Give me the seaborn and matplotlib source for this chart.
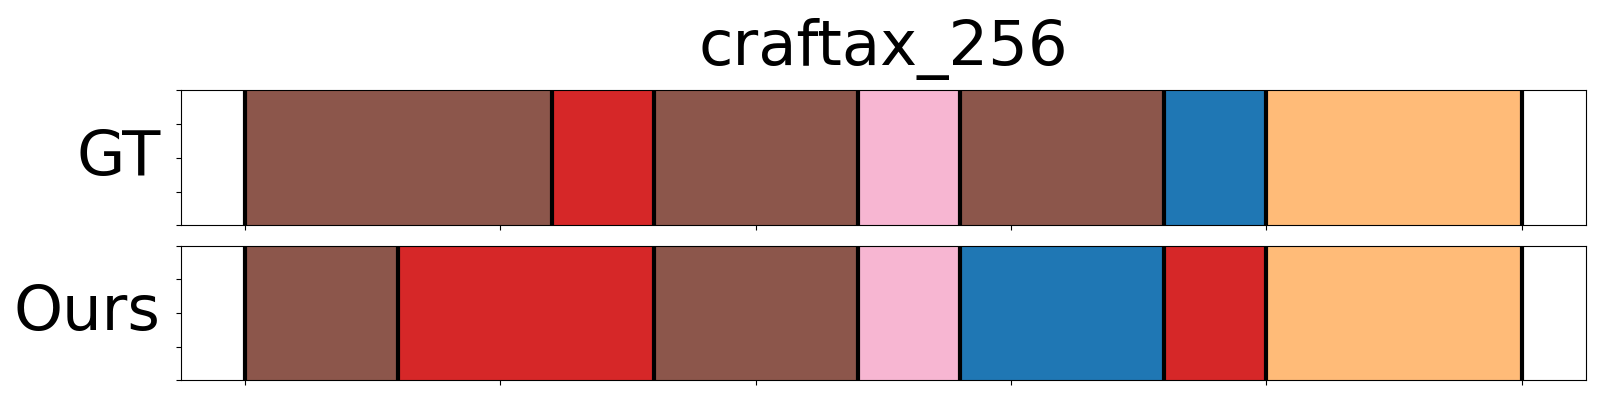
import numpy as np
import pandas as pd
import matplotlib
matplotlib.use('Agg')
import matplotlib.pyplot as plt
import seaborn as sns

# segment boundaries (frames) and action labels for each row
gt_bounds = [0, 60, 80, 120, 140, 180, 200, 250]
gt_labels = ['brown', 'red', 'brown', 'pink', 'brown', 'blue', 'orange']
ours_bounds = [0, 30, 80, 120, 140, 180, 200, 250]
ours_labels = ['brown', 'red', 'brown', 'pink', 'blue', 'red', 'orange']
row_names = ['GT', 'Ours']
title = 'craftax_256'

tab20 = sns.color_palette('tab20')
palette = {'blue': tab20[0], 'orange': tab20[3], 'red': tab20[6],
           'brown': tab20[10], 'pink': tab20[13]}

fig = plt.figure(figsize=(16, 4), dpi=100)
ax1 = fig.add_axes([0.1133, 0.437, 0.8777, 0.337])
ax2 = fig.add_axes([0.1133, 0.049, 0.8777, 0.337])

for ax, bounds, labels, name in zip([ax1, ax2], [gt_bounds, ours_bounds],
                                     [gt_labels, ours_labels], row_names):
    seg = pd.DataFrame({'start': bounds[:-1], 'end': bounds[1:], 'label': labels})
    seg['width'] = seg['end'] - seg['start']
    ax.barh(np.zeros(len(seg)), seg['width'], left=seg['start'], height=1.0,
            color=[palette[l] for l in seg['label']], align='edge')
    for b in bounds:
        ax.axvline(b, color='black', linewidth=3)
    ax.set_xlim(-12.5, 262.5)
    ax.set_ylim(0, 1)
    ax.set_xticks(np.arange(0, 251, 50))
    ax.set_yticks(np.linspace(0, 1, 5))
    ax.set_xticklabels([])
    ax.set_yticklabels([])
    ax.set_ylabel(name, fontsize=45, rotation=0, ha='right', va='center', labelpad=8)

ax1.set_title(title, fontsize=45, pad=18)

plt.savefig('out.png', dpi=100)
